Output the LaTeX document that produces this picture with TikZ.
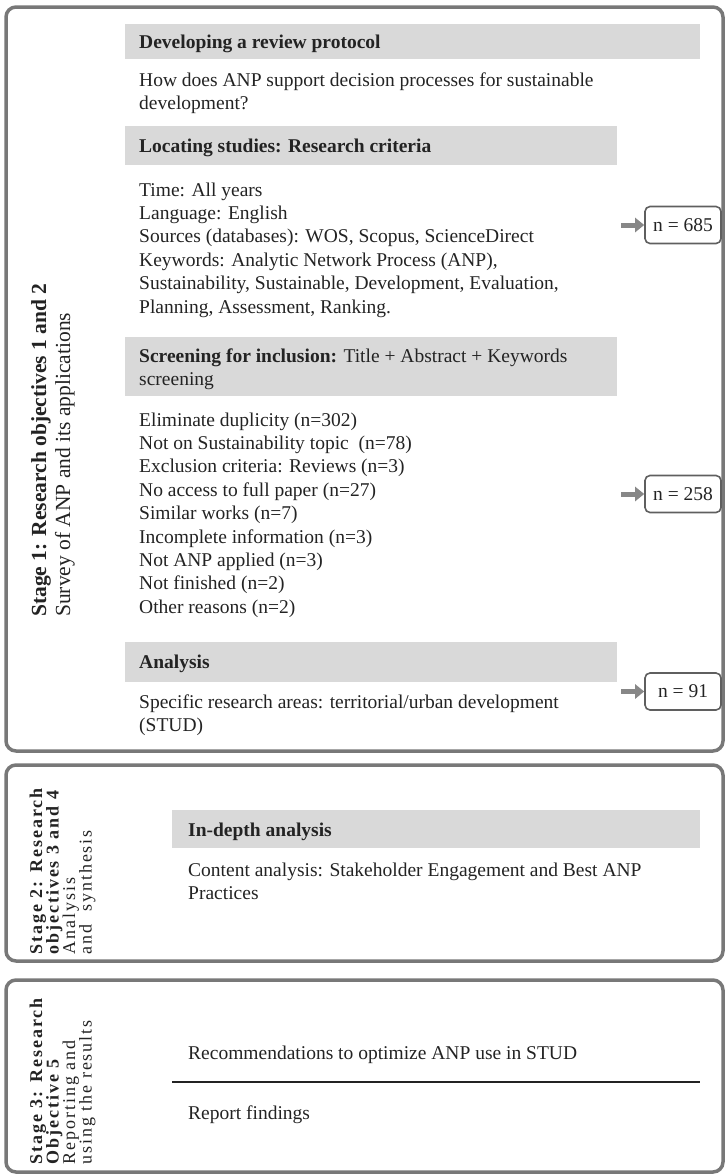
\documentclass[tikz,border=0pt]{standalone}
\usepackage{fontspec}
\setmainfont{Liberation Serif}
\newfontfamily\spaced[LetterSpace=11]{Liberation Serif}
\usetikzlibrary{arrows.meta}
\definecolor{stagegray}{RGB}{120,120,120}
\definecolor{bargray}{RGB}{217,217,217}
\definecolor{nborder}{RGB}{95,95,95}
\definecolor{arrowgray}{RGB}{135,135,135}
\definecolor{ink}{RGB}{35,35,35}
\begin{document}
\begin{tikzpicture}[x=1pt,y=-1pt,
  stagebox/.style={draw=stagegray, line width=3.5pt, rounded corners=10pt},
  bar/.style={fill=bargray, draw=none},
  txt/.style={anchor=base west, inner sep=0pt, text=ink, font=\fontsize{19.5}{23.4}\selectfont},
  head/.style={txt, font=\fontsize{19.5}{23.4}\selectfont\bfseries},
  nbox/.style={draw=nborder, line width=1.6pt, rounded corners=5pt, minimum width=76pt, minimum height=37pt, text=ink, font=\fontsize{19.5}{23.4}\selectfont, inner sep=0pt},
  garrow/.style={draw=arrowgray, line width=5pt, -{Triangle[length=9pt,width=14pt]}},
  vbig/.style={rotate=90, anchor=base west, inner sep=0pt, text=ink, font=\fontsize{21.5}{24}\selectfont},
  vsmall/.style={rotate=90, anchor=base west, inner sep=0pt, text=ink, font=\fontsize{18}{20}\selectfont\spaced},
  vsmallb/.style={vsmall, font=\fontsize{18}{20}\selectfont\spaced\bfseries},
]
\useasboundingbox (0,0) rectangle (727,1175);

% ---------- Stage boxes ----------
\draw[stagebox] (6,7) rectangle (723,751);
\draw[stagebox] (6,765) rectangle (723,961);
\draw[stagebox] (6,980) rectangle (723,1172);

% ---------- Stage 1 ----------
\fill[bar] (125,24) rectangle (700,59);
\node[head] (h1) at (139,48) {Developing a review protocol};
\node[txt] (q1) at (139,86) {How does ANP support decision processes for sustainable};
\node[txt] (q2) at (139,109.4) {development?};

\fill[bar] (125,126) rectangle (617,165);
\node[head] (h2) at (139,152) {Locating studies: Research criteria};
\node[txt] (t1) at (139,196) {Time: All years};
\node[txt] (t2) at (139,219.4) {Language: English};
\node[txt] (t3) at (139,242.8) {Sources (databases): WOS, Scopus, ScienceDirect};
\node[txt] (t4) at (139,266.2) {Keywords: Analytic Network Process (ANP),};
\node[txt] (t5) at (139,289.6) {Sustainability, Sustainable, Development, Evaluation,};
\node[txt] (t6) at (139,313) {Planning, Assessment, Ranking.};

\fill[bar] (125,337) rectangle (617,396);
\node[txt] (h3) at (139,362) {\textbf{Screening for inclusion:} Title + Abstract + Keywords};
\node[txt] (h3b) at (139,385.4) {screening};
\node[txt] (e1) at (139,426) {Eliminate duplicity (n=302)};
\node[txt] (e2) at (139,449.4) {Not on Sustainability topic\ \ (n=78)};
\node[txt] (e3) at (139,472.8) {Exclusion criteria: Reviews (n=3)};
\node[txt] (e4) at (139,496.2) {No access to full paper (n=27)};
\node[txt] (e5) at (139,519.6) {Similar works (n=7)};
\node[txt] (e6) at (139,543) {Incomplete information (n=3)};
\node[txt] (e7) at (139,566.4) {Not ANP applied (n=3)};
\node[txt] (e8) at (139,589.8) {Not finished (n=2)};
\node[txt] (e9) at (139,613.2) {Other reasons (n=2)};

\fill[bar] (125,642) rectangle (617,682);
\node[head] (h4) at (139,668) {Analysis};
\node[txt] (s1) at (139,708) {Specific research areas: territorial/urban development};
\node[txt] (s2) at (139,731.4) {(STUD)};

% counts
\node[nbox] (n1) at (683,225) {n = 685};
\node[nbox] (n2) at (683,494) {n = 258};
\node[nbox] (n3) at (683,691.5) {n = 91};
\coordinate (a1) at (621,225);
\coordinate (a2) at (621,494);
\coordinate (a3) at (621,691.5);
\draw[garrow] (a1) -- (n1.west);
\draw[garrow] (a2) -- (n2.west);
\draw[garrow] (a3) -- (n3.west);

\node[vbig, font=\fontsize{21.5}{24}\selectfont\bfseries] (v11) at (46,617) {Stage 1: Research objectives 1 and 2};
\node[vbig] (v12) at (70,617) {Survey of ANP and its applications};

% ---------- Stage 2 ----------
\fill[bar] (172,810) rectangle (700,848);
\node[head] (h5) at (188,836) {In-depth analysis};
\node[txt] (c1) at (188,876) {Content analysis: Stakeholder Engagement and Best ANP};
\node[txt] (c2) at (188,899.4) {Practices};

\node[vsmallb] (v21) at (42,955) {Stage 2: Research};
\node[vsmallb] (v22) at (58.5,955) {objectives 3 and 4};
\node[vsmall] (v23) at (75,955) {Analysis};
\node[vsmall] (v24) at (91.5,955) {and\ \ synthesis};

% ---------- Stage 3 ----------
\node[txt] (r1) at (188,1059) {Recommendations to optimize ANP use in STUD};
\coordinate (l1) at (172,1082);
\coordinate (l2) at (700,1082);
\draw[line width=2pt, ink] (l1) -- (l2);
\node[txt] (r2) at (188,1119) {Report findings};

\node[vsmallb] (v31) at (42,1165) {Stage 3: Research};
\node[vsmallb] (v32) at (58.5,1165) {Objective 5};
\node[vsmall] (v33) at (75,1165) {Reporting and};
\node[vsmall] (v34) at (91.5,1165) {using the results};
\end{tikzpicture}
\end{document}
